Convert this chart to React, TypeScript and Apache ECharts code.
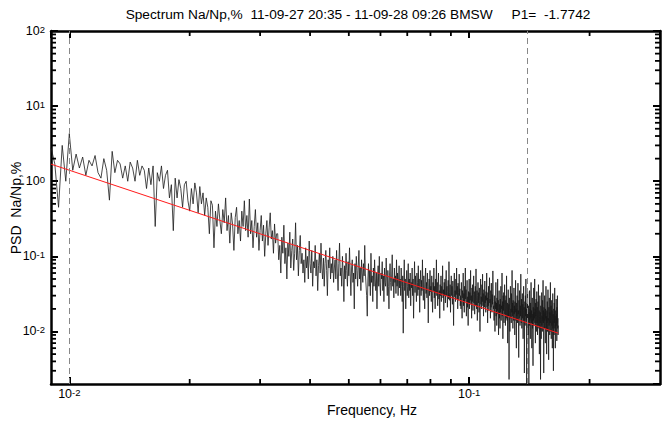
import React, { useEffect, useRef } from "react";
import * as echarts from "echarts";

// ---- axis ranges ----
const X_MIN = 0.009;
const X_MAX = 0.3;
const Y_MIN = 0.002;
const Y_MAX = 100;

// ---- spectrum frequency span (linear frequency grid) ----
const F_START = 0.009;
const F_END = 0.167;

// ---- PSD values (ordered by frequency) ----
// 0.009 – 0.033 Hz
const psdA = [
  2.8, 1.7, 0.45, 3.0, 1.0, 4.3, 1.4, 2.3, 1.5, 2.1, 1.2, 1.9, 1.6, 2.2, 1.3, 1.1, 2.0, 1.4,
  0.56, 2.5, 1.3, 1.9, 1.7, 1.1, 1.6, 1.0, 1.8, 1.5, 1.0, 1.9, 1.2, 1.6, 1.4, 0.8, 1.5, 0.9,
  1.6, 0.25, 1.3, 1.0, 1.6, 0.8, 1.2, 1.4, 0.6, 0.9, 0.22, 1.1,
  0.6, 1.05, 0.8, 0.45, 0.9, 1.0, 0.55, 0.4, 0.8, 0.5, 0.95, 0.7, 0.38, 0.85, 0.5, 0.7, 0.35, 0.6,
  0.45, 0.2, 0.55, 0.48, 0.13, 0.4, 0.25, 0.5, 0.3, 0.2, 0.42, 0.28, 0.6, 0.22, 0.35, 0.15, 0.38, 0.27, 0.12, 0.33,
  0.45, 0.2, 0.3, 0.16, 0.4, 0.25, 0.55, 0.22, 0.35, 0.18,
  0.58, 0.2, 0.3, 0.13, 0.25, 0.42, 0.18, 0.28, 0.12, 0.22, 0.35, 0.16, 0.26, 0.1, 0.2, 0.3, 0.14, 0.24, 0.38, 0.17,
  0.22, 0.11, 0.27, 0.15, 0.2,
];
// 0.033 – 0.080 Hz
const psdB = [
  0.2, 0.09, 0.14, 0.06, 0.18, 0.11, 0.26, 0.08, 0.13, 0.05, 0.15, 0.1, 0.21, 0.07, 0.12, 0.17, 0.065, 0.11, 0.28, 0.09,
  0.14, 0.055, 0.12, 0.19, 0.08,
  0.11, 0.06, 0.09, 0.045, 0.13, 0.07, 0.1, 0.05, 0.16, 0.08, 0.06, 0.12, 0.04, 0.085, 0.07, 0.14, 0.055, 0.09, 0.035, 0.075,
  0.11, 0.06, 0.15, 0.07, 0.05, 0.095, 0.04, 0.08, 0.12, 0.065, 0.03, 0.09, 0.07, 0.13, 0.05, 0.08, 0.06, 0.1, 0.045, 0.07,
  0.09, 0.05, 0.12, 0.06, 0.035, 0.08, 0.15, 0.055, 0.07, 0.04, 0.1, 0.06, 0.025, 0.075, 0.05, 0.11, 0.065, 0.04, 0.085, 0.055,
  0.13, 0.06, 0.03, 0.07, 0.09, 0.045, 0.06, 0.02, 0.08, 0.05, 0.1, 0.065, 0.04, 0.075, 0.12, 0.05, 0.07, 0.035, 0.09, 0.06,
  0.045, 0.08, 0.055, 0.14, 0.06,
  0.06, 0.03, 0.016, 0.05, 0.08, 0.04, 0.065, 0.03, 0.11, 0.045, 0.055, 0.025, 0.07, 0.04, 0.09, 0.05, 0.035, 0.06, 0.02, 0.05,
  0.075, 0.04, 0.1, 0.045, 0.03, 0.06, 0.05, 0.085, 0.035, 0.055, 0.025, 0.07, 0.045, 0.04, 0.095, 0.05, 0.03, 0.065, 0.04, 0.02,
  0.055, 0.08, 0.045, 0.035, 0.06, 0.105, 0.04, 0.05, 0.028, 0.07, 0.045, 0.055, 0.032, 0.09, 0.04, 0.06, 0.03, 0.05, 0.075, 0.038,
  0.05, 0.03, 0.07, 0.04, 0.025, 0.055, 0.0095, 0.04, 0.09, 0.035, 0.05, 0.02, 0.045, 0.065, 0.03, 0.04, 0.08, 0.028, 0.05, 0.035,
  0.06, 0.022, 0.045, 0.038, 0.07, 0.03, 0.05, 0.015, 0.04, 0.085, 0.033, 0.055, 0.04, 0.025, 0.06, 0.045, 0.03, 0.075, 0.036, 0.05,
  0.018, 0.042, 0.065, 0.03, 0.048, 0.035, 0.09, 0.04, 0.026, 0.055, 0.038, 0.02, 0.05, 0.07, 0.032, 0.045, 0.028, 0.06, 0.04, 0.013,
  0.036, 0.05, 0.03, 0.065, 0.034,
];
// 0.080 – 0.115 Hz
const psdC = [
  0.04, 0.025, 0.055, 0.03, 0.018, 0.045, 0.035, 0.07, 0.028, 0.04, 0.02, 0.05, 0.033, 0.09, 0.03, 0.045, 0.022, 0.038, 0.06, 0.027,
  0.035, 0.015, 0.042, 0.03, 0.055, 0.025, 0.04, 0.032, 0.075, 0.028, 0.036, 0.019, 0.045, 0.03, 0.05, 0.024, 0.038, 0.065, 0.03, 0.04,
  0.021, 0.034, 0.048, 0.027, 0.085, 0.033, 0.026, 0.042, 0.018, 0.036, 0.055, 0.03, 0.04, 0.023, 0.047, 0.032, 0.012, 0.038, 0.06, 0.029,
  0.035, 0.025, 0.05, 0.031, 0.07, 0.027, 0.04, 0.02, 0.044, 0.033, 0.026, 0.058, 0.03, 0.037, 0.022,
  0.03, 0.02, 0.045, 0.026, 0.015, 0.035, 0.028, 0.06, 0.022, 0.032, 0.018, 0.04, 0.025, 0.07, 0.027, 0.036, 0.016, 0.03, 0.048, 0.021,
  0.029, 0.012, 0.034, 0.024, 0.05, 0.02, 0.033, 0.026, 0.065, 0.023, 0.03, 0.015, 0.038, 0.025, 0.042, 0.019, 0.031, 0.055, 0.024, 0.034,
  0.017, 0.028, 0.04, 0.022, 0.068, 0.026, 0.02, 0.035, 0.014, 0.03, 0.045, 0.024, 0.033, 0.018, 0.038, 0.026, 0.01, 0.03, 0.05, 0.023,
  0.029, 0.02, 0.042, 0.025, 0.058, 0.022, 0.032, 0.016, 0.036, 0.027, 0.021, 0.047, 0.024, 0.03, 0.018, 0.034, 0.026, 0.06, 0.021, 0.028,
  0.013, 0.033, 0.022, 0.04, 0.019, 0.03, 0.052, 0.024, 0.027, 0.015, 0.035, 0.021, 0.044, 0.026, 0.018, 0.031, 0.023, 0.064, 0.025, 0.02,
];
// 0.115 – 0.167 Hz
const psdD = [
  0.022, 0.014, 0.03, 0.018, 0.01, 0.025, 0.02, 0.045, 0.016, 0.024, 0.012, 0.028, 0.019, 0.05, 0.017, 0.026, 0.009, 0.021, 0.035, 0.015,
  0.023, 0.011, 0.027, 0.018, 0.04, 0.014, 0.022, 0.02, 0.06, 0.016, 0.025, 0.008, 0.03, 0.019, 0.033, 0.013, 0.021, 0.042, 0.017, 0.026,
  0.012, 0.02, 0.03, 0.015, 0.055, 0.018, 0.014, 0.024, 0.007, 0.02, 0.036, 0.016, 0.023, 0.0023, 0.028, 0.019, 0.01, 0.022, 0.04, 0.015,
  0.02, 0.013, 0.032, 0.018, 0.065, 0.016, 0.024, 0.011, 0.026, 0.019, 0.014, 0.038, 0.017, 0.022, 0.009, 0.025, 0.018, 0.048, 0.014, 0.02,
  0.006, 0.024, 0.016, 0.03, 0.013, 0.021, 0.044, 0.017, 0.019, 0.0045, 0.026, 0.015, 0.035, 0.018, 0.012, 0.022, 0.016, 0.058, 0.017, 0.013,
  0.027, 0.011, 0.02, 0.032, 0.015, 0.023, 0.008, 0.019, 0.04, 0.014, 0.021, 0.0028, 0.018, 0.025, 0.012, 0.03, 0.016, 0.05, 0.014, 0.02,
  0.0019, 0.017, 0.024, 0.013, 0.034,
  0.016, 0.009, 0.022, 0.013, 0.0019, 0.018, 0.012, 0.035, 0.014, 0.02, 0.008, 0.024, 0.015, 0.045, 0.013, 0.019, 0.006, 0.016, 0.028, 0.011,
  0.017, 0.0035, 0.021, 0.014, 0.038, 0.012, 0.018, 0.015, 0.05, 0.013, 0.02, 0.007, 0.024, 0.016, 0.027, 0.01, 0.017, 0.034, 0.013, 0.021,
  0.009, 0.016, 0.025, 0.012, 0.042, 0.015, 0.011, 0.019, 0.005, 0.016, 0.03, 0.013, 0.018, 0.0023, 0.022, 0.015, 0.008, 0.017, 0.033, 0.012,
  0.016, 0.01, 0.026, 0.014, 0.048, 0.013, 0.019, 0.0028, 0.021, 0.015, 0.011, 0.03, 0.014, 0.018, 0.007, 0.02, 0.015, 0.04, 0.011, 0.016,
  0.005, 0.019, 0.013, 0.025, 0.01, 0.017, 0.036, 0.014, 0.015, 0.0042, 0.021, 0.012, 0.028, 0.015, 0.009, 0.018, 0.013, 0.045, 0.014, 0.01,
  0.022, 0.008, 0.016, 0.026, 0.012, 0.019, 0.006, 0.015, 0.032, 0.011, 0.017, 0.003, 0.014, 0.02, 0.009, 0.024, 0.013, 0.038, 0.011, 0.016,
  0.006, 0.014, 0.019, 0.01, 0.027, 0.012, 0.017, 0.0075, 0.021, 0.013, 0.03, 0.011, 0.015, 0.009, 0.012,
];

// ---- power-law fit (red line), end points ----
const fitFreq = [0.009, 0.167];
const fitPsd = [1.69, 0.0095];

// ---- dashed vertical markers ----
const markerFreqs = [0.01, 0.14];

// ---- minor tick positions ----
const xMinorTicks = [0.02, 0.03, 0.04, 0.05, 0.06, 0.07, 0.08, 0.09, 0.2];
const yMinorTicks = [
  0.003, 0.004, 0.005, 0.006, 0.007, 0.008, 0.009,
  0.02, 0.03, 0.04, 0.05, 0.06, 0.07, 0.08, 0.09,
  0.2, 0.3, 0.4, 0.5, 0.6, 0.7, 0.8, 0.9,
  2, 3, 4, 5, 6, 7, 8, 9,
  20, 30, 40, 50, 60, 70, 80, 90,
];

// ---- texts ----
const TITLE = "Spectrum Na/Np,%  11-09-27 20:35 - 11-09-28 09:26 BMSW     P1=  -1.7742";
const X_NAME = "Frequency, Hz";
const Y_NAME = "PSD  Na/Np,%";

const FONT = "'Liberation Sans', Arial, sans-serif";

function powLabel(v: number): string {
  const e = Math.log10(v);
  const r = Math.round(e);
  if (Math.abs(e - r) > 1e-6) return "";
  return "{b|10}{s|" + r + "}";
}

const richStyle = {
  b: { fontSize: 12.5, lineHeight: 13, verticalAlign: "bottom", fontFamily: FONT, color: "#000" },
  s: { fontSize: 9.5, lineHeight: 9, padding: [0, 0, 10, 0], verticalAlign: "top", fontFamily: FONT, color: "#000" },
};

export default function App() {
  const ref = useRef<HTMLDivElement>(null);

  useEffect(() => {
    if (!ref.current) return;
    const chart = echarts.init(ref.current, undefined, { renderer: "svg" });

    const allPsd = [...psdA, ...psdB, ...psdC, ...psdD];
    const n = allPsd.length;
    const step = (F_END - F_START) / (n - 1);
    const spectrum = allPsd.map((v, i) => [F_START + i * step, v]);
    const fit = fitFreq.map((f, i) => [f, fitPsd[i]]);

    const axisLine = { show: true, lineStyle: { color: "#000", width: 2.5 } };
    const axisTick = { show: true, inside: true, length: 7, lineStyle: { color: "#000", width: 2 } };

    const tickLine = (x1: number, y1: number, x2: number, y2: number) => ({
      type: "line",
      shape: { x1, y1, x2, y2 },
      style: { stroke: "#000", lineWidth: 1.8 },
    });

    const option: any = {
      animation: false,
      backgroundColor: "#fff",
      grid: { left: 51, top: 31, right: 3, bottom: 39, containLabel: false, outerBoundsMode: "none" },
      xAxis: [
        {
          type: "log",
          logBase: 10,
          min: X_MIN,
          max: X_MAX,
          position: "bottom",
          axisLine,
          axisTick,
          splitLine: { show: false },
          minorTick: { show: false },
          axisLabel: {
            show: true,
            margin: 3,
            formatter: powLabel,
            rich: richStyle,
            showMinLabel: false,
            showMaxLabel: false,
          },
        },
        {
          type: "log",
          logBase: 10,
          min: X_MIN,
          max: X_MAX,
          position: "top",
          axisLine,
          axisTick,
          splitLine: { show: false },
          axisLabel: { show: false },
        },
      ],
      yAxis: [
        {
          type: "log",
          logBase: 10,
          min: Y_MIN,
          max: Y_MAX,
          position: "left",
          axisLine,
          axisTick,
          splitLine: { show: false },
          axisLabel: {
            show: true,
            margin: 6,
            formatter: powLabel,
            rich: richStyle,
            showMinLabel: false,
          },
        },
        {
          type: "log",
          logBase: 10,
          min: Y_MIN,
          max: Y_MAX,
          position: "right",
          axisLine,
          axisTick,
          splitLine: { show: false },
          axisLabel: { show: false },
        },
      ],
      graphic: [
        {
          type: "text",
          style: {
            x: 358,
            y: 14,
            text: TITLE,
            fill: "#000",
            font: "13.7px " + FONT,
            textAlign: "center",
            textVerticalAlign: "middle",
          },
        },
        {
          type: "text",
          style: {
            x: 372,
            y: 410,
            text: X_NAME,
            fill: "#000",
            font: "14px " + FONT,
            textAlign: "center",
            textVerticalAlign: "middle",
          },
        },
        {
          type: "text",
          x: 16,
          y: 208,
          rotation: Math.PI / 2,
          style: {
            x: 0,
            y: 0,
            text: Y_NAME,
            fill: "#000",
            font: "14px " + FONT,
            textAlign: "center",
            textVerticalAlign: "middle",
          },
        },
      ],
      series: [
        {
          name: "spectrum",
          type: "line",
          xAxisIndex: 0,
          yAxisIndex: 0,
          data: spectrum,
          showSymbol: false,
          symbol: "none",
          silent: true,
          lineStyle: { color: "#1a1a1a", width: 0.8 },
          z: 2,
        },
        {
          name: "fit",
          type: "line",
          xAxisIndex: 0,
          yAxisIndex: 0,
          data: fit,
          showSymbol: false,
          symbol: "none",
          silent: true,
          lineStyle: { color: "#ff1a1a", width: 1 },
          z: 3,
          markLine: {
            silent: true,
            symbol: ["none", "none"],
            label: { show: false },
            lineStyle: { color: "#888", width: 1, type: [6, 4] },
            data: markerFreqs.map((f) => ({ xAxis: f })),
          },
        },
        {
          name: "xMinor",
          type: "custom",
          xAxisIndex: 0,
          yAxisIndex: 0,
          silent: true,
          clip: false,
          z: 10,
          data: xMinorTicks.map((v) => [v, Y_MIN]),
          renderItem: (_p: any, api: any) => {
            const v = api.value(0);
            const b = api.coord([v, Y_MIN]);
            const t = api.coord([v, Y_MAX]);
            return {
              type: "group",
              children: [tickLine(b[0], b[1], b[0], b[1] - 5), tickLine(t[0], t[1], t[0], t[1] + 5)],
            };
          },
        },
        {
          name: "yMinor",
          type: "custom",
          xAxisIndex: 0,
          yAxisIndex: 0,
          silent: true,
          clip: false,
          z: 10,
          data: yMinorTicks.map((v) => [X_MIN, v]),
          renderItem: (_p: any, api: any) => {
            const v = api.value(1);
            const l = api.coord([X_MIN, v]);
            const r = api.coord([X_MAX, v]);
            return {
              type: "group",
              children: [tickLine(l[0], l[1], l[0] + 5, l[1]), tickLine(r[0], r[1], r[0] - 5, r[1])],
            };
          },
        },
      ],
    };

    chart.setOption(option);
    return () => chart.dispose();
  }, []);

  return (
    <div
      ref={ref}
      style={{ position: "absolute", left: 0, top: 0, width: 663, height: 423, background: "#fff" }}
    />
  );
}
